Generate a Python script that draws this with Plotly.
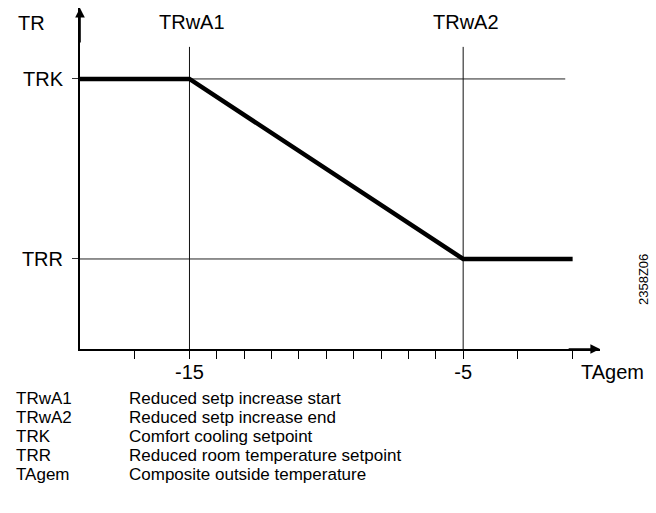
import plotly.graph_objects as go

# ---- data ----
curve_x = [-19, -15, -5, -1]          # TAgem
curve_y = [1, 1, 0, 0]                # 1 = TRK, 0 = TRR
x_tickvals = [-17, -15, -14, -13, -12, -11, -10, -9, -8, -7, -6, -5, -3, -1]
x_ticktext = ["", "-15", "", "", "", "", "", "", "", "", "", "-5", "", ""]
y_tickvals = [1, 0]
y_ticktext = ["TRK", "TRR"]
ref_x = [-15, -5]
ref_labels = ["TRwA1", "TRwA2"]
legend_codes = ["TRwA1", "TRwA2", "TRK", "TRR", "TAgem"]
legend_texts = [
    "Reduced setp increase start",
    "Reduced setp increase end",
    "Comfort cooling setpoint",
    "Reduced room temperature setpoint",
    "Composite outside temperature",
]
doc_id = "2358Z06"

FONT = "Liberation Sans, Arial, sans-serif"
BIG = 20
LEG = 17
XMIN, XMAX = -19, 0
YMIN, YMAX = -0.5, 1.394
W, H = 656, 513
L, R, T, B = 80, 56, 8, 164
PW, PH = W - L - R, H - T - B


def px_x(px):
    return (px - L) / PW


def px_y(py):
    return (H - B - py) / PH


fig = go.Figure()

# thin reference lines
line_col = "#222222"
fig.add_trace(go.Scatter(x=[XMIN, -1.27], y=[1, 1], mode="lines",
                         line=dict(color=line_col, width=1), hoverinfo="skip"))
fig.add_trace(go.Scatter(x=[XMIN, -1.27], y=[0, 0], mode="lines",
                         line=dict(color=line_col, width=1), hoverinfo="skip"))
for xv in ref_x:
    fig.add_trace(go.Scatter(x=[xv, xv], y=[YMIN, 1.178], mode="lines",
                             line=dict(color="#111111", width=1), hoverinfo="skip"))

# thick curve
fig.add_trace(go.Scatter(x=curve_x, y=curve_y, mode="lines",
                         line=dict(color="black", width=4.5), hoverinfo="skip"))

annotations = []
# axis arrows
annotations.append(dict(x=XMAX, y=YMIN, ax=XMAX - 1.2, ay=YMIN, xref="x", yref="y",
                        axref="x", ayref="y", showarrow=True, arrowhead=2,
                        arrowsize=1.2, arrowwidth=1.6, arrowcolor="black", text=""))
annotations.append(dict(x=XMIN, y=YMAX, ax=XMIN, ay=YMAX - 0.2, xref="x", yref="y",
                        axref="x", ayref="y", showarrow=True, arrowhead=2,
                        arrowsize=1.2, arrowwidth=1.6, arrowcolor="black", text=""))

# top labels
for xv, lab in zip(ref_x, ref_labels):
    annotations.append(dict(x=xv, y=px_y(22), xref="x", yref="paper", text=lab,
                            showarrow=False, xanchor="center", yanchor="middle", xshift=3,
                            font=dict(family=FONT, size=BIG, color="black")))
annotations.append(dict(x=px_x(16), y=px_y(23), xref="paper", yref="paper", text="TR",
                        showarrow=False, xanchor="left", yanchor="middle",
                        font=dict(family=FONT, size=BIG, color="black")))
annotations.append(dict(x=px_x(579), y=px_y(372), xref="paper", yref="paper", text="TAgem",
                        showarrow=False, xanchor="left", yanchor="middle",
                        font=dict(family=FONT, size=BIG, color="black")))
annotations.append(dict(x=px_x(643), y=px_y(280), xref="paper", yref="paper", text=doc_id,
                        showarrow=False, textangle=-90, xanchor="center", yanchor="middle",
                        font=dict(family=FONT, size=13, color="black")))

# legend block
row_y = [398, 417, 436, 455, 474]
for code, txt, py in zip(legend_codes, legend_texts, row_y):
    annotations.append(dict(x=px_x(14), y=px_y(py), xref="paper", yref="paper", text=code,
                            showarrow=False, xanchor="left", yanchor="middle",
                            font=dict(family=FONT, size=LEG, color="black")))
    annotations.append(dict(x=px_x(127), y=px_y(py), xref="paper", yref="paper", text=txt,
                            showarrow=False, xanchor="left", yanchor="middle",
                            font=dict(family=FONT, size=LEG, color="black")))

fig.update_layout(
    width=W, height=H,
    margin=dict(l=L, r=R, t=T, b=B, pad=0),
    paper_bgcolor="white", plot_bgcolor="white",
    showlegend=False,
    annotations=annotations,
    xaxis=dict(range=[XMIN, XMAX], showgrid=False, zeroline=False,
               showline=True, linecolor="black", linewidth=2,
               ticks="outside", ticklen=8, tickwidth=1, tickcolor="black",
               tickvals=x_tickvals, ticktext=x_ticktext, ticklabelstandoff=-4,
               tickfont=dict(family=FONT, size=BIG, color="black")),
    yaxis=dict(range=[YMIN, YMAX], showgrid=False, zeroline=False,
               showline=True, linecolor="black", linewidth=2,
               ticks="outside", ticklen=6, tickwidth=1, tickcolor="#333333",
               tickvals=y_tickvals, ticktext=y_ticktext, ticklabelstandoff=5,
               tickfont=dict(family=FONT, size=BIG, color="black")),
)

fig.write_html("out.html", config={"displayModeBar": False},
               post_script="document.body.style.margin='0';")
